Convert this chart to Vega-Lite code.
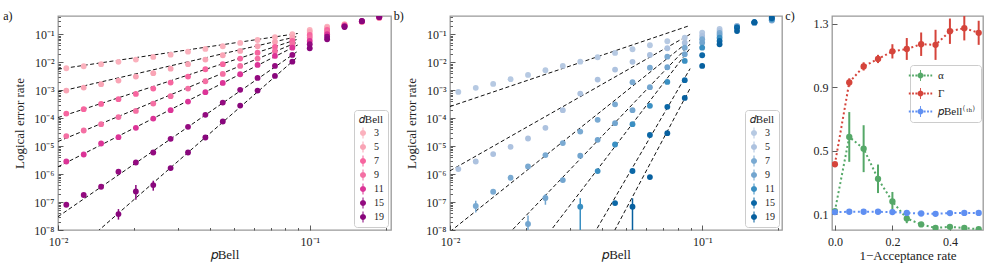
{
"$schema": "https://vega.github.io/schema/vega-lite/v6.json",
"background": "white",
"padding": {"left": 2, "top": 9, "right": 0, "bottom": 0},
"config": {
  "font": "Liberation Serif",
  "view": {"stroke": "#999", "strokeWidth": 1.3},
  "axis": {"domain": false, "grid": false, "tickColor": "#333", "tickWidth": 0.8, "labelFont": "Liberation Serif", "titleFont": "Liberation Serif", "labelFontSize": 12, "titleFontSize": 13, "titleFontWeight": "normal", "labelColor": "#222", "titleColor": "#222"},
  "legend": {"labelFont": "Liberation Serif", "titleFont": "Liberation Serif", "labelColor": "#222", "titleColor": "#222"}
},
"datasets": {
  "a_fit": [
    {"d":3,"p":0.01,"e":0.00562},{"d":3,"p":0.0895,"e":0.1067},
    {"d":5,"p":0.01,"e":0.000871},{"d":5,"p":0.0895,"e":0.0838},
    {"d":7,"p":0.01,"e":0.000105},{"d":7,"p":0.0895,"e":0.0665},
    {"d":9,"p":0.01,"e":1.46e-5},{"d":9,"p":0.0895,"e":0.0526},
    {"d":11,"p":0.01,"e":1.82e-6},{"d":11,"p":0.0895,"e":0.0414},
    {"d":15,"p":0.01,"e":2.99e-8},{"d":15,"p":0.0895,"e":0.0247},
    {"d":19,"p":0.01,"e":5.2e-10},{"d":19,"p":0.0895,"e":0.0156}
  ],
  "b_fit": [
    {"d":3,"p":0.01,"e":0.00026},{"d":3,"p":0.0895,"e":0.207},
    {"d":5,"p":0.01,"e":1.31e-6},{"d":5,"p":0.0895,"e":0.1},
    {"d":7,"p":0.01,"e":8.7e-9},{"d":7,"p":0.0895,"e":0.0611},
    {"d":9,"p":0.01,"e":4.7e-11},{"d":9,"p":0.0895,"e":0.0447},
    {"d":11,"p":0.01,"e":1.86e-13},{"d":11,"p":0.0895,"e":0.0316},
    {"d":15,"p":0.01,"e":1.05e-17},{"d":15,"p":0.0895,"e":0.0059},
    {"d":19,"p":0.01,"e":7.9e-20},{"d":19,"p":0.0895,"e":0.00117}
  ],
  "a_pts": [
    {"d":3,"p":0.01079,"e":0.0061},{"d":3,"p":0.01265,"e":0.0072},{"d":3,"p":0.01483,"e":0.0085},{"d":3,"p":0.01738,"e":0.0103},{"d":3,"p":0.02038,"e":0.0124},{"d":3,"p":0.02389,"e":0.0155},{"d":3,"p":0.028,"e":0.0187},{"d":3,"p":0.03283,"e":0.0239},{"d":3,"p":0.03848,"e":0.0299},{"d":3,"p":0.04511,"e":0.0372},{"d":3,"p":0.05289,"e":0.0489},{"d":3,"p":0.062,"e":0.0625},{"d":3,"p":0.07268,"e":0.0782},{"d":3,"p":0.08521,"e":0.1},{"d":3,"p":0.0999,"e":0.1426},{"d":3,"p":0.1171,"e":0.1866},{"d":3,"p":0.1373,"e":0.23},{"d":3,"p":0.1609,"e":0.275},{"d":3,"p":0.1886,"e":0.38},
    {"d":5,"p":0.01079,"e":0.00097},{"d":5,"p":0.01265,"e":0.00124},{"d":5,"p":0.01483,"e":0.00164},{"d":5,"p":0.01738,"e":0.0022},{"d":5,"p":0.02038,"e":0.00306},{"d":5,"p":0.02389,"e":0.00405},{"d":5,"p":0.028,"e":0.0059},{"d":5,"p":0.03283,"e":0.0085},{"d":5,"p":0.03848,"e":0.0124},{"d":5,"p":0.04511,"e":0.0178},{"d":5,"p":0.05289,"e":0.0254},{"d":5,"p":0.062,"e":0.0372},{"d":5,"p":0.07268,"e":0.0531},{"d":5,"p":0.08521,"e":0.0757},{"d":5,"p":0.0999,"e":0.1208},{"d":5,"p":0.1171,"e":0.168},{"d":5,"p":0.1373,"e":0.22},{"d":5,"p":0.1609,"e":0.28},{"d":5,"p":0.1886,"e":0.39},
    {"d":7,"p":0.01079,"e":0.000146},{"d":7,"p":0.01265,"e":0.000209},{"d":7,"p":0.01483,"e":0.000324},{"d":7,"p":0.01738,"e":0.000478},{"d":7,"p":0.02038,"e":0.000738},{"d":7,"p":0.02389,"e":0.00114},{"d":7,"p":0.028,"e":0.00187},{"d":7,"p":0.03283,"e":0.00306},{"d":7,"p":0.03848,"e":0.00562},{"d":7,"p":0.04511,"e":0.0085},{"d":7,"p":0.05289,"e":0.0135},{"d":7,"p":0.062,"e":0.022},{"d":7,"p":0.07268,"e":0.0352},{"d":7,"p":0.08521,"e":0.0577},{"d":7,"p":0.0999,"e":0.0944},{"d":7,"p":0.1171,"e":0.1426},{"d":7,"p":0.1373,"e":0.21},{"d":7,"p":0.1609,"e":0.285},{"d":7,"p":0.1886,"e":0.4},
    {"d":9,"p":0.01079,"e":2.28e-5},{"d":9,"p":0.01265,"e":3.61e-5},{"d":9,"p":0.01483,"e":6.11e-5},{"d":9,"p":0.01738,"e":0.000109},{"d":9,"p":0.02038,"e":0.000182},{"d":9,"p":0.02389,"e":0.000332},{"d":9,"p":0.028,"e":0.000611},{"d":9,"p":0.03283,"e":0.00114},{"d":9,"p":0.03848,"e":0.00209},{"d":9,"p":0.04511,"e":0.00382},{"d":9,"p":0.05289,"e":0.00738},{"d":9,"p":0.062,"e":0.0135},{"d":9,"p":0.07268,"e":0.0247},{"d":9,"p":0.08521,"e":0.044},{"d":9,"p":0.0999,"e":0.0757},{"d":9,"p":0.1171,"e":0.1208},{"d":9,"p":0.1373,"e":0.205},{"d":9,"p":0.1609,"e":0.29},{"d":9,"p":0.1886,"e":0.4},
    {"d":11,"p":0.01079,"e":2.82e-6},{"d":11,"p":0.01265,"e":5.0e-6},{"d":11,"p":0.01483,"e":1.24e-5},{"d":11,"p":0.01738,"e":2.09e-5},{"d":11,"p":0.02038,"e":4.51e-5},{"d":11,"p":0.02389,"e":9.68e-5},{"d":11,"p":0.028,"e":0.000193},{"d":11,"p":0.03283,"e":0.000392},{"d":11,"p":0.03848,"e":0.000849},{"d":11,"p":0.04511,"e":0.00182},{"d":11,"p":0.05289,"e":0.00372},{"d":11,"p":0.062,"e":0.00802},{"d":11,"p":0.07268,"e":0.0168},{"d":11,"p":0.08521,"e":0.0332},{"d":11,"p":0.0999,"e":0.0577},{"d":11,"p":0.1171,"e":0.1},{"d":11,"p":0.1373,"e":0.2},{"d":11,"p":0.1609,"e":0.29},{"d":11,"p":0.1886,"e":0.41},
    {"d":15,"p":0.01079,"e":8.0e-8},{"d":15,"p":0.01265,"e":1.78e-7},{"d":15,"p":0.01483,"e":3.52e-7},{"d":15,"p":0.01738,"e":1.21e-6},{"d":15,"p":0.02038,"e":2.59e-6},{"d":15,"p":0.02389,"e":5.9e-6},{"d":15,"p":0.028,"e":1.82e-5},{"d":15,"p":0.03283,"e":4.89e-5},{"d":15,"p":0.03848,"e":0.000131},{"d":15,"p":0.04511,"e":0.000361},{"d":15,"p":0.05289,"e":0.00103},{"d":15,"p":0.062,"e":0.00275},{"d":15,"p":0.07268,"e":0.00738},{"d":15,"p":0.08521,"e":0.0182},{"d":15,"p":0.0999,"e":0.044},{"d":15,"p":0.1171,"e":0.082},{"d":15,"p":0.1373,"e":0.19},{"d":15,"p":0.1609,"e":0.295},{"d":15,"p":0.1886,"e":0.415},
    {"d":19,"p":0.01738,"e":3.72e-8,"lo":2.35e-8,"hi":5.6e-8},{"d":19,"p":0.02038,"e":2.39e-7,"lo":1.2e-7,"hi":4.05e-7},{"d":19,"p":0.02389,"e":4.05e-7,"lo":2.55e-7,"hi":5.8e-7},{"d":19,"p":0.028,"e":1.64e-6},{"d":19,"p":0.03283,"e":5.9e-6},{"d":19,"p":0.03848,"e":2.03e-5},{"d":19,"p":0.04511,"e":7.57e-5},{"d":19,"p":0.05289,"e":0.000282},{"d":19,"p":0.062,"e":0.000968},{"d":19,"p":0.07268,"e":0.00324},{"d":19,"p":0.08521,"e":0.0105},{"d":19,"p":0.0999,"e":0.0316},{"d":19,"p":0.1171,"e":0.0662},{"d":19,"p":0.1373,"e":0.182},{"d":19,"p":0.1609,"e":0.3},{"d":19,"p":0.1886,"e":0.42}
  ],
  "b_pts": [
    {"d":3,"p":0.01079,"e":0.00087},{"d":3,"p":0.01265,"e":0.00121},{"d":3,"p":0.01483,"e":0.00168},{"d":3,"p":0.01738,"e":0.00247},{"d":3,"p":0.02038,"e":0.00352},{"d":3,"p":0.02389,"e":0.00518},{"d":3,"p":0.028,"e":0.00738},{"d":3,"p":0.03283,"e":0.0105},{"d":3,"p":0.03848,"e":0.0151},{"d":3,"p":0.04511,"e":0.0215},{"d":3,"p":0.05289,"e":0.0291},{"d":3,"p":0.062,"e":0.0405},{"d":3,"p":0.07268,"e":0.0562},{"d":3,"p":0.08521,"e":0.0757},{"d":3,"p":0.0999,"e":0.114},{"d":3,"p":0.1171,"e":0.1545},{"d":3,"p":0.1373,"e":0.2},{"d":3,"p":0.1609,"e":0.25},{"d":3,"p":0.1886,"e":0.31},
    {"d":5,"p":0.01079,"e":1.51e-6},{"d":5,"p":0.01265,"e":2.82e-6},{"d":5,"p":0.01483,"e":5.18e-6},{"d":5,"p":0.01738,"e":9.44e-6},{"d":5,"p":0.02038,"e":1.87e-5},{"d":5,"p":0.02389,"e":4.51e-5},{"d":5,"p":0.028,"e":0.000193},{"d":5,"p":0.03283,"e":0.000757},{"d":5,"p":0.03848,"e":0.00239},{"d":5,"p":0.04511,"e":0.00545},{"d":5,"p":0.05289,"e":0.0103},{"d":5,"p":0.062,"e":0.0182},{"d":5,"p":0.07268,"e":0.0316},{"d":5,"p":0.08521,"e":0.0501},{"d":5,"p":0.0999,"e":0.0869},{"d":5,"p":0.1171,"e":0.131},{"d":5,"p":0.1373,"e":0.199},{"d":5,"p":0.1609,"e":0.255},{"d":5,"p":0.1886,"e":0.31},
    {"d":7,"p":0.01265,"e":7.2e-8,"lo":4.2e-8,"hi":1.11e-7},{"d":7,"p":0.01483,"e":2.33e-7},{"d":7,"p":0.01738,"e":7.38e-7},{"d":7,"p":0.02038,"e":1.87e-6},{"d":7,"p":0.02389,"e":4.78e-6},{"d":7,"p":0.028,"e":1.28e-5},{"d":7,"p":0.03283,"e":3.32e-5},{"d":7,"p":0.03848,"e":8.69e-5},{"d":7,"p":0.04511,"e":0.000311},{"d":7,"p":0.05289,"e":0.00193},{"d":7,"p":0.062,"e":0.00641},{"d":7,"p":0.07268,"e":0.0158},{"d":7,"p":0.08521,"e":0.0332},{"d":7,"p":0.0999,"e":0.0662},{"d":7,"p":0.1171,"e":0.111},{"d":7,"p":0.1373,"e":0.19},{"d":7,"p":0.1609,"e":0.26},{"d":7,"p":0.1886,"e":0.32},
    {"d":9,"p":0.02038,"e":1.64e-8,"lo":5e-9,"hi":3.27e-8},{"d":9,"p":0.02389,"e":1.39e-7,"lo":8.0e-8,"hi":1.92e-7},{"d":9,"p":0.028,"e":6.11e-7},{"d":9,"p":0.03283,"e":4.51e-6},{"d":9,"p":0.03848,"e":1.68e-5},{"d":9,"p":0.04511,"e":6.62e-5},{"d":9,"p":0.05289,"e":0.000193},{"d":9,"p":0.062,"e":0.00128},{"d":9,"p":0.07268,"e":0.00662},{"d":9,"p":0.08521,"e":0.0193},{"d":9,"p":0.0999,"e":0.0501},{"d":9,"p":0.1171,"e":0.0944},{"d":9,"p":0.1373,"e":0.184},{"d":9,"p":0.1609,"e":0.26},{"d":9,"p":0.1886,"e":0.33},
    {"d":11,"p":0.03283,"e":6.8e-8,"lo":1e-9,"hi":1.36e-7},{"d":11,"p":0.03848,"e":1.28e-6},{"d":11,"p":0.04511,"e":1.14e-5},{"d":11,"p":0.05289,"e":6.11e-5},{"d":11,"p":0.062,"e":0.000275},{"d":11,"p":0.07268,"e":0.00198},{"d":11,"p":0.08521,"e":0.0111},{"d":11,"p":0.0999,"e":0.0332},{"d":11,"p":0.1171,"e":0.0757},{"d":11,"p":0.1373,"e":0.176},{"d":11,"p":0.1609,"e":0.265},{"d":11,"p":0.1886,"e":0.35},
    {"d":15,"p":0.04511,"e":9.2e-8},{"d":15,"p":0.05289,"e":1.29e-6},{"d":15,"p":0.062,"e":2.49e-5},{"d":15,"p":0.07268,"e":0.000254},{"d":15,"p":0.08521,"e":0.00228},{"d":15,"p":0.0999,"e":0.0178},{"d":15,"p":0.1171,"e":0.0577},{"d":15,"p":0.1373,"e":0.176},{"d":15,"p":0.1609,"e":0.27},{"d":15,"p":0.1886,"e":0.38},
    {"d":19,"p":0.05289,"e":6.8e-8,"lo":1e-9,"hi":1.36e-7},{"d":19,"p":0.062,"e":7.82e-7},{"d":19,"p":0.07268,"e":2.91e-5},{"d":19,"p":0.08521,"e":0.000531},{"d":19,"p":0.0999,"e":0.00738},{"d":19,"p":0.1171,"e":0.044},{"d":19,"p":0.1373,"e":0.131},{"d":19,"p":0.1609,"e":0.27},{"d":19,"p":0.1886,"e":0.39}
  ],
  "c": [
    {"s":"α","x":0,"v":0.119,"lo":0.112,"hi":0.126},{"s":"α","x":0.05,"v":0.587,"lo":0.43,"hi":0.744},{"s":"α","x":0.1,"v":0.513,"lo":0.365,"hi":0.661},{"s":"α","x":0.15,"v":0.323,"lo":0.233,"hi":0.413},{"s":"α","x":0.2,"v":0.18,"lo":0.12,"hi":0.24},{"s":"α","x":0.25,"v":0.073,"lo":0.043,"hi":0.103},{"s":"α","x":0.3,"v":0.035,"lo":0.023,"hi":0.047},{"s":"α","x":0.35,"v":0.013,"lo":0.005,"hi":0.021},{"s":"α","x":0.4,"v":0.02,"lo":0.012,"hi":0.028},{"s":"α","x":0.45,"v":0.013,"lo":0.005,"hi":0.021},{"s":"α","x":0.5,"v":0.005,"lo":0.0,"hi":0.013},
    {"s":"Γ","x":0,"v":0.415,"lo":0.41,"hi":0.42},{"s":"Γ","x":0.05,"v":0.931,"lo":0.905,"hi":0.957},{"s":"Γ","x":0.1,"v":1.032,"lo":1.006,"hi":1.058},{"s":"Γ","x":0.15,"v":1.079,"lo":1.053,"hi":1.105},{"s":"Γ","x":0.2,"v":1.127,"lo":1.082,"hi":1.172},{"s":"Γ","x":0.25,"v":1.142,"lo":1.073,"hi":1.211},{"s":"Γ","x":0.3,"v":1.172,"lo":1.098,"hi":1.246},{"s":"Γ","x":0.35,"v":1.168,"lo":1.073,"hi":1.263},{"s":"Γ","x":0.4,"v":1.254,"lo":1.174,"hi":1.334},{"s":"Γ","x":0.45,"v":1.273,"lo":1.196,"hi":1.35},{"s":"Γ","x":0.5,"v":1.244,"lo":1.168,"hi":1.32},
    {"s":"p","x":0,"v":0.113,"lo":0.107,"hi":0.119},{"s":"p","x":0.05,"v":0.115,"lo":0.109,"hi":0.121},{"s":"p","x":0.1,"v":0.115,"lo":0.109,"hi":0.121},{"s":"p","x":0.15,"v":0.115,"lo":0.109,"hi":0.121},{"s":"p","x":0.2,"v":0.113,"lo":0.107,"hi":0.119},{"s":"p","x":0.25,"v":0.108,"lo":0.102,"hi":0.114},{"s":"p","x":0.3,"v":0.104,"lo":0.098,"hi":0.11},{"s":"p","x":0.35,"v":0.102,"lo":0.096,"hi":0.108},{"s":"p","x":0.4,"v":0.107,"lo":0.101,"hi":0.113},{"s":"p","x":0.45,"v":0.108,"lo":0.102,"hi":0.114},{"s":"p","x":0.5,"v":0.108,"lo":0.102,"hi":0.114}
  ]
},
"spacing": 1,
"resolve": {"scale": {"color": "independent"}, "legend": {"color": "independent"}},
"hconcat": [
  {
    "width": 333, "height": 214,
    "title": {"text": "a)", "orient": "left", "anchor": "end", "angle": 0, "align": "right", "baseline": "middle", "offset": -8, "fontSize": 12, "fontWeight": "normal", "font": "Liberation Serif", "color": "#111"},
    "layer": [
      {"data": {"name": "a_fit"},
       "mark": {"type": "line", "color": "#111", "strokeWidth": 1, "strokeDash": [4, 2.5], "clip": true},
       "encoding": {
         "x": {"field": "p", "type": "quantitative", "scale": {"type": "log", "domain": [0.01, 0.21], "nice": false},
               "axis": {"orient": "bottom", "values": [0.02,0.03,0.04,0.05,0.06,0.07,0.08,0.09,0.2], "labels": false, "tickSize": -2.5, "title": null}},
         "y": {"field": "e", "type": "quantitative", "scale": {"type": "log", "domain": [1e-8, 0.45], "nice": false},
               "axis": {"orient": "left", "values": [2e-8,3e-8,4e-8,5e-8,6e-8,7e-8,8e-8,9e-8,2e-7,3e-7,4e-7,5e-7,6e-7,7e-7,8e-7,9e-7,2e-6,3e-6,4e-6,5e-6,6e-6,7e-6,8e-6,9e-6,2e-5,3e-5,4e-5,5e-5,6e-5,7e-5,8e-5,9e-5,0.0002,0.0003,0.0004,0.0005,0.0006,0.0007,0.0008,0.0009,0.002,0.003,0.004,0.005,0.006,0.007,0.008,0.009,0.02,0.03,0.04,0.05,0.06,0.07,0.08,0.09,0.2,0.3,0.4], "labels": false, "tickSize": -2.5, "title": null}},
         "detail": {"field": "d", "type": "nominal"}
       }},
      {"data": {"name": "a_pts"},
       "transform": [{"filter": "isValid(datum.lo)"}],
       "mark": {"type": "rule", "strokeWidth": 1.5, "clip": true},
       "encoding": {
         "x": {"field": "p", "type": "quantitative", "scale": {"type": "log", "domain": [0.01, 0.21], "nice": false}, "axis": null},
         "y": {"field": "lo", "type": "quantitative", "scale": {"type": "log", "domain": [1e-8, 0.45], "nice": false}, "axis": null},
         "y2": {"field": "hi"},
         "color": {"field": "d", "type": "ordinal", "scale": {"domain": [3,5,7,9,11,15,19], "range": ["#fbb1bd","#f9a4b5","#f7659f","#f46fa3","#dc3497","#930b80","#88067c"]}}
       }},
      {"data": {"name": "a_pts"},
       "mark": {"type": "circle", "size": 34, "opacity": 1, "clip": true},
       "encoding": {
         "x": {"field": "p", "type": "quantitative", "scale": {"type": "log", "domain": [0.01, 0.21], "nice": false},
               "axis": {"orient": "bottom", "values": [0.01, 0.1], "labelExpr": "datum.value < 0.05 ? '10⁻²' : '10⁻¹'", "labelFlush": false, "tickSize": -5, "labelPadding": 11, "title": "𝑝Bell", "titlePadding": 1}},
         "y": {"field": "e", "type": "quantitative", "scale": {"type": "log", "domain": [1e-8, 0.45], "nice": false},
               "axis": {"orient": "left", "values": [1e-8,1e-7,1e-6,1e-5,1e-4,1e-3,1e-2,1e-1], "labelExpr": "'10' + ['⁻⁸','⁻⁷','⁻⁶','⁻⁵','⁻⁴','⁻³','⁻²','⁻¹'][round(log(datum.value)/LN10) + 8]", "tickSize": -5, "labelPadding": 9, "title": "Logical error rate", "titlePadding": 7}},
         "color": {"field": "d", "type": "ordinal", "scale": {"domain": [3,5,7,9,11,15,19], "range": ["#fbb1bd","#f9a4b5","#f7659f","#f46fa3","#dc3497","#930b80","#88067c"]},
                   "legend": {"title": "𝑑Bell", "orient": "bottom-right", "offset": 3, "symbolType": "M-1,0A1,1 0 1,1 1,0A1,1 0 1,1 -1,0Z M-0.17,-1.8H0.17V1.8H-0.17Z", "symbolSize": 36, "symbolStrokeWidth": 0, "symbolOpacity": 1, "labelFontSize": 10, "titleFontSize": 11, "titleFontWeight": "normal", "titleAnchor": "middle", "titlePadding": 3, "strokeColor": "#ccc", "fillColor": "white", "padding": 4, "rowPadding": 2, "labelOffset": 6, "cornerRadius": 3}}
       }}
    ],
    "resolve": {"axis": {"x": "independent", "y": "independent"}}
  },
  {
    "width": 332, "height": 214,
    "title": {"text": "b)", "orient": "left", "anchor": "end", "angle": 0, "align": "right", "baseline": "middle", "offset": -8, "fontSize": 12, "fontWeight": "normal", "font": "Liberation Serif", "color": "#111"},
    "layer": [
      {"data": {"name": "b_fit"},
       "mark": {"type": "line", "color": "#111", "strokeWidth": 1, "strokeDash": [4, 2.5], "clip": true},
       "encoding": {
         "x": {"field": "p", "type": "quantitative", "scale": {"type": "log", "domain": [0.01, 0.207], "nice": false},
               "axis": {"orient": "bottom", "values": [0.02,0.03,0.04,0.05,0.06,0.07,0.08,0.09,0.2], "labels": false, "tickSize": -2.5, "title": null}},
         "y": {"field": "e", "type": "quantitative", "scale": {"type": "log", "domain": [1e-8, 0.45], "nice": false},
               "axis": {"orient": "left", "values": [2e-8,3e-8,4e-8,5e-8,6e-8,7e-8,8e-8,9e-8,2e-7,3e-7,4e-7,5e-7,6e-7,7e-7,8e-7,9e-7,2e-6,3e-6,4e-6,5e-6,6e-6,7e-6,8e-6,9e-6,2e-5,3e-5,4e-5,5e-5,6e-5,7e-5,8e-5,9e-5,0.0002,0.0003,0.0004,0.0005,0.0006,0.0007,0.0008,0.0009,0.002,0.003,0.004,0.005,0.006,0.007,0.008,0.009,0.02,0.03,0.04,0.05,0.06,0.07,0.08,0.09,0.2,0.3,0.4], "labels": false, "tickSize": -2.5, "title": null}},
         "detail": {"field": "d", "type": "nominal"}
       }},
      {"data": {"name": "b_pts"},
       "transform": [{"filter": "isValid(datum.lo)"}],
       "mark": {"type": "rule", "strokeWidth": 1.5, "clip": true},
       "encoding": {
         "x": {"field": "p", "type": "quantitative", "scale": {"type": "log", "domain": [0.01, 0.207], "nice": false}, "axis": null},
         "y": {"field": "lo", "type": "quantitative", "scale": {"type": "log", "domain": [1e-8, 0.45], "nice": false}, "axis": null},
         "y2": {"field": "hi"},
         "color": {"field": "d", "type": "ordinal", "scale": {"domain": [3,5,7,9,11,15,19], "range": ["#b6c9e2","#adc2df","#7aaad2","#72a5cf","#3a8fc2","#0b67a6","#07609f"]}}
       }},
      {"data": {"name": "b_pts"},
       "mark": {"type": "circle", "size": 34, "opacity": 1, "clip": true},
       "encoding": {
         "x": {"field": "p", "type": "quantitative", "scale": {"type": "log", "domain": [0.01, 0.207], "nice": false},
               "axis": {"orient": "bottom", "values": [0.01, 0.1], "labelExpr": "datum.value < 0.05 ? '10⁻²' : '10⁻¹'", "labelFlush": false, "tickSize": -5, "labelPadding": 11, "title": "𝑝Bell", "titlePadding": 1}},
         "y": {"field": "e", "type": "quantitative", "scale": {"type": "log", "domain": [1e-8, 0.45], "nice": false},
               "axis": {"orient": "left", "values": [1e-8,1e-7,1e-6,1e-5,1e-4,1e-3,1e-2,1e-1], "labelExpr": "'10' + ['⁻⁸','⁻⁷','⁻⁶','⁻⁵','⁻⁴','⁻³','⁻²','⁻¹'][round(log(datum.value)/LN10) + 8]", "tickSize": -5, "labelPadding": 9, "title": "Logical error rate", "titlePadding": 7}},
         "color": {"field": "d", "type": "ordinal", "scale": {"domain": [3,5,7,9,11,15,19], "range": ["#b6c9e2","#adc2df","#7aaad2","#72a5cf","#3a8fc2","#0b67a6","#07609f"]},
                   "legend": {"title": "𝑑Bell", "orient": "bottom-right", "offset": 3, "symbolType": "M-1,0A1,1 0 1,1 1,0A1,1 0 1,1 -1,0Z M-0.17,-1.8H0.17V1.8H-0.17Z", "symbolSize": 36, "symbolStrokeWidth": 0, "symbolOpacity": 1, "labelFontSize": 10, "titleFontSize": 11, "titleFontWeight": "normal", "titleAnchor": "middle", "titlePadding": 3, "strokeColor": "#ccc", "fillColor": "white", "padding": 4, "rowPadding": 2, "labelOffset": 6, "cornerRadius": 3}}
       }}
    ],
    "resolve": {"axis": {"x": "independent", "y": "independent"}}
  },
  {
    "width": 151, "height": 214,
    "title": {"text": "c)", "orient": "left", "anchor": "end", "angle": 0, "align": "right", "baseline": "middle", "offset": 9, "fontSize": 12, "fontWeight": "normal", "font": "Liberation Serif", "color": "#111"},
    "data": {"name": "c"},
    "layer": [
      {"mark": {"type": "line", "strokeWidth": 2, "strokeDash": [2, 2.6], "clip": true},
       "encoding": {
         "x": {"field": "x", "type": "quantitative", "scale": {"domain": [-0.01, 0.515], "nice": false, "zero": false},
               "axis": {"orient": "bottom", "values": [0, 0.2, 0.4], "format": ".1f", "labelFlush": false, "tickSize": -5, "labelPadding": 11, "title": "1−Acceptance rate", "titlePadding": 2}},
         "y": {"field": "v", "type": "quantitative", "scale": {"domain": [0, 1.35], "nice": false, "zero": false},
               "axis": {"orient": "left", "values": [0.1,0.3,0.5,0.7,0.9,1.1,1.3], "format": ".1f", "tickSize": -5, "labelPadding": 9, "title": null}},
         "color": {"field": "s", "type": "nominal", "scale": {"domain": ["α","Γ","p"], "range": ["#55a868","#d5443b","#5f8ff2"]}}
       }},
      {"mark": {"type": "rule", "strokeWidth": 2, "clip": true},
       "encoding": {
         "x": {"field": "x", "type": "quantitative"},
         "y": {"field": "lo", "type": "quantitative"},
         "y2": {"field": "hi"},
         "color": {"field": "s", "type": "nominal", "scale": {"domain": ["α","Γ","p"], "range": ["#55a868","#d5443b","#5f8ff2"]}}
       }},
      {"mark": {"type": "circle", "size": 40, "opacity": 1, "clip": true},
       "encoding": {
         "x": {"field": "x", "type": "quantitative"},
         "y": {"field": "v", "type": "quantitative"},
         "color": {"field": "s", "type": "nominal", "scale": {"domain": ["α","Γ","p"], "range": ["#55a868","#d5443b","#5f8ff2"]},
                   "legend": {"title": null, "orient": "none", "legendX": 78, "legendY": 49, "labelExpr": "datum.label == 'p' ? '𝑝Bell⁽ᵗʰ⁾' : datum.label", "symbolType": "M-1,0A1,1 0 1,1 1,0A1,1 0 1,1 -1,0Z M-0.15,-1.8H0.15V1.8H-0.15Z M-3.9,-0.3H-3.3V0.3H-3.9Z M-2.8,-0.3H-2.2V0.3H-2.8Z M-1.7,-0.3H-1.1V0.3H-1.7Z M1.1,-0.3H1.7V0.3H1.1Z M2.2,-0.3H2.8V0.3H2.2Z M3.3,-0.3H3.9V0.3H3.3Z", "symbolSize": 36, "symbolStrokeWidth": 0, "symbolOpacity": 1, "labelFontSize": 11, "strokeColor": "#ccc", "fillColor": "white", "padding": 5, "rowPadding": 6, "labelOffset": 12, "cornerRadius": 3}}
       }}
    ]
  }
]
}
